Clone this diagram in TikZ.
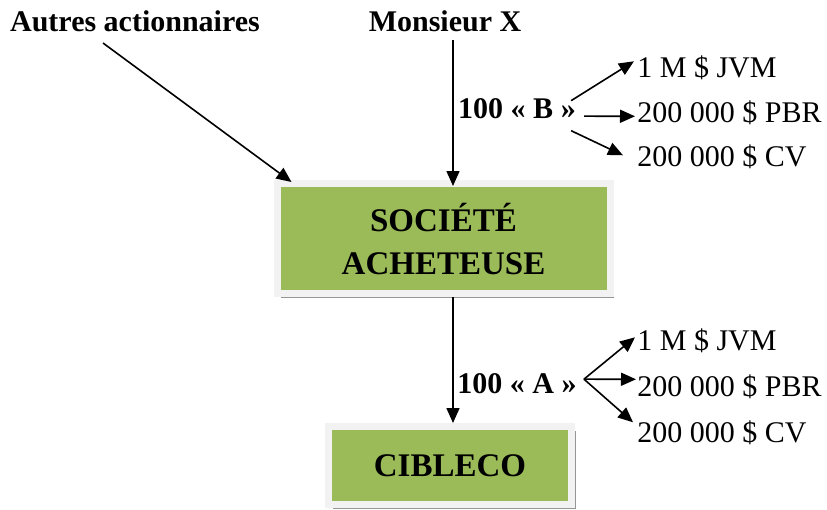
\documentclass[tikz,border=0pt]{standalone}
\usepackage{fontspec}
\setmainfont{Liberation Serif}
\usetikzlibrary{arrows.meta,positioning,shadows}
\definecolor{BoxGreen}{RGB}{155,187,89}
\definecolor{FrameGrey}{RGB}{242,242,242}
\definecolor{ShadeGrey}{RGB}{150,150,150}
\tikzset{
  owner/.style={font=\fontsize{15}{18}\selectfont\bfseries,inner sep=0pt,anchor=base},
  share/.style={font=\fontsize{15}{18}\selectfont\bfseries,inner sep=0pt,anchor=base},
  val/.style={font=\fontsize{15}{18}\selectfont,inner sep=0pt,anchor=base west},
  firm/.style={fill=BoxGreen,draw=FrameGrey,line width=3.5pt,align=center,
               font=\fontsize{16.5}{21.5}\selectfont\bfseries,
               drop shadow={shadow xshift=2pt,shadow yshift=-2pt,fill=ShadeGrey,opacity=1}},
  arr/.style={-{Triangle[length=7.5pt,width=6.5pt]},line width=0.8pt},
}
\begin{document}
\begin{tikzpicture}[x=0.5pt,y=-0.5pt]
  \useasboundingbox (0,0) rectangle (827,510);
  % owners
  \node[owner] (autres) at (135,31) {Autres actionnaires};
  \node[owner] (mx) at (445,31) {Monsieur X};
  % companies
  \node[firm,minimum width=166.5pt,minimum height=55pt] (soc) at (443.5,238.5) {SOCIÉTÉ\\ACHETEUSE};
  \node[firm,minimum width=121.5pt,minimum height=39pt] (cib) at (450,465.5) {CIBLECO};
  % shares
  \node[share] (sb) at (517,118) {100 « B »};
  \node[share] (sa) at (517,393) {100 « A »};
  % values of B
  \node[val] (b1) at (637,77)  {1 M \$ JVM};
  \node[val] (b2) at (637,122) {200 000 \$ PBR};
  \node[val] (b3) at (637,166) {200 000 \$ CV};
  % values of A
  \node[val] (a1) at (637,350) {1 M \$ JVM};
  \node[val] (a2) at (637,396) {200 000 \$ PBR};
  \node[val] (a3) at (637,442) {200 000 \$ CV};
  % connectors
  \coordinate (ao) at (103,43);
  \coordinate (mo) at (453,40);
  \draw[arr] (ao) -- ([xshift=9pt,yshift=-1pt]soc.north west);
  \draw[arr] (mo) -- ([yshift=-3pt]soc.north -| mo);
  \draw[arr] (soc.south -| mo) -- (cib.north -| mo);
  \draw[arr] ([xshift=-2.5pt,yshift=-1.5pt]sb.north east) -- ([xshift=-1.5pt,yshift=3pt]b1.west);
  \draw[arr] ([xshift=4pt,yshift=-4pt]sb.east) -- ([xshift=-1pt,yshift=-2pt]b2.west);
  \draw[arr] ([xshift=-2.5pt,yshift=-6pt]sb.south east) -- ([xshift=-7pt,yshift=0.5pt]b3.west);
  \coordinate (fork) at ([xshift=3.5pt,yshift=2pt]sa.east);
  \draw[arr] (fork) -- ([xshift=-1pt,yshift=1.5pt]a1.west);
  \draw[arr] (fork) -- ([xshift=-0.5pt,yshift=3.5pt]a2.west);
  \draw[arr] (fork) -- ([xshift=-2pt,yshift=5pt]a3.west);
\end{tikzpicture}
\end{document}
